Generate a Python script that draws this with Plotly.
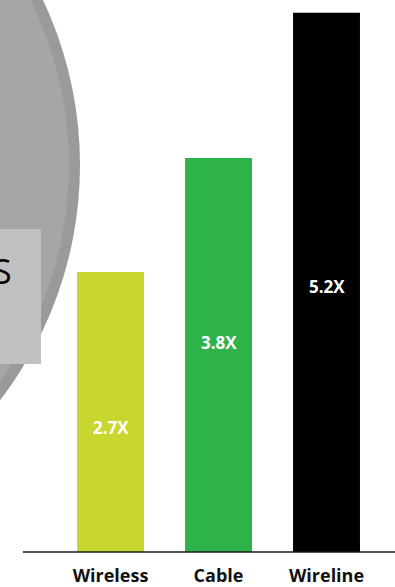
import plotly.graph_objects as go

categories = ["Wireless", "Cable", "Wireline"]
values = [2.7, 3.8, 5.2]
value_labels = ["2.7X", "3.8X", "5.2X"]
bar_colors = ["#c8d72f", "#2eb34b", "#000000"]

W, H = 395, 587
MB = 35
PLOT_H = H - MB  # plot area height in px (top margin 0)

def px_x(x):
    return x / W

def px_y(y):
    return (PLOT_H - y) / PLOT_H

# label vertical positions as fraction of bar height
label_frac = [0.444, 0.531, 0.492]

px_per_unit = 103.7
y_top = PLOT_H / px_per_unit
cat_step = 108.0
first_center = 110.5
x_range = [-first_center / cat_step, (W - first_center) / cat_step]

fig = go.Figure()
fig.add_trace(go.Bar(
    x=categories, y=values,
    marker=dict(color=bar_colors, line=dict(width=0)),
    width=0.62,
    hoverinfo="skip",
))

shapes = []
# big gray circle with darker ring
cx, cy, r, ring = -306, 165, 386, 11
shapes.append(dict(type="circle", xref="paper", yref="paper", layer="below",
                   x0=px_x(cx - r), x1=px_x(cx + r), y0=px_y(cy + r), y1=px_y(cy - r),
                   fillcolor="#9a9a9a", line=dict(width=0)))
shapes.append(dict(type="circle", xref="paper", yref="paper", layer="below",
                   x0=px_x(cx - r + ring), x1=px_x(cx + r - ring),
                   y0=px_y(cy + r - ring), y1=px_y(cy - r + ring),
                   fillcolor="#a6a6a6", line=dict(width=0)))
# light gray box
shapes.append(dict(type="rect", xref="paper", yref="paper", layer="below",
                   x0=px_x(-5), x1=px_x(41), y0=px_y(364), y1=px_y(229),
                   fillcolor="#c0c0c0", line=dict(width=0)))
# baseline
shapes.append(dict(type="line", xref="paper", yref="paper", layer="above",
                   x0=px_x(23), x1=px_x(W), y0=px_y(552), y1=px_y(552),
                   line=dict(color="#1a1a1a", width=1.5)))

annotations = []
for c, v, t, f in zip(categories, values, value_labels, label_frac):
    annotations.append(dict(x=c, y=v * f, xref="x", yref="y", text=t, showarrow=False,
                            font=dict(family="Open Sans", size=17, color="white", weight="bold"),
                            xanchor="center", yanchor="middle"))
annotations.append(dict(x=px_x(14), y=px_y(271), xref="paper", yref="paper", text="S",
                        showarrow=False, xanchor="right", yanchor="middle",
                        font=dict(family="Open Sans", size=34, color="#000000")))

fig.update_layout(
    width=W, height=H,
    margin=dict(l=0, r=0, t=0, b=MB, pad=0),
    paper_bgcolor="white", plot_bgcolor="white",
    showlegend=False,
    shapes=shapes, annotations=annotations,
    xaxis=dict(range=x_range, showgrid=False, zeroline=False, showline=False,
               ticks="", ticklabelstandoff=11,
               tickfont=dict(family="Open Sans", size=18, color="#111111", weight="bold")),
    yaxis=dict(range=[0, y_top], showgrid=False, zeroline=False, showline=False,
               showticklabels=False, ticks=""),
)

fig.write_html("out.html")
